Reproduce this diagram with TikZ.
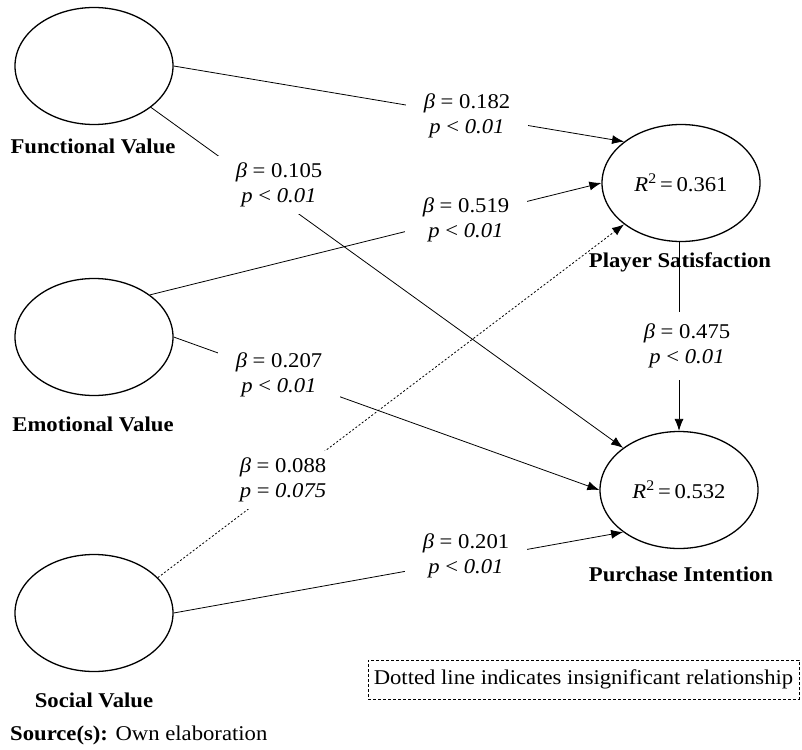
\documentclass[tikz,border=0pt]{standalone}
\usepackage{fontspec}
\setmainfont{Liberation Serif}[FakeStretch=1.08]
\usetikzlibrary{positioning, shapes.geometric, arrows.meta}

\begin{document}
\begin{tikzpicture}[x=1pt,y=-1pt,
    font=\fontsize{21}{25}\selectfont,
    latent/.style={draw,ellipse,line width=1.3pt,minimum width=158pt,minimum height=117pt,inner sep=0pt},
    varname/.style={font=\fontsize{21}{25}\selectfont\bfseries},
    coef/.style={fill=white,align=center,inner xsep=18pt,inner ysep=7pt},
    effect/.style={line width=0.8pt,-{Latex[length=12pt,width=9pt]}},
    insig/.style={effect,dash pattern=on 2pt off 2pt}]
        \useasboundingbox (0,0) rectangle (802,749);

        % the constructs
        \node[latent] (fv) at (94,66) {};
        \node[latent] (ev) at (94,337) {};
        \node[latent] (sv) at (94,613) {};
        \node[latent] (ps) at (681,183) {\textit{R}\textsuperscript{2}\,=\,0.361};
        \node[latent] (pi) at (679,490) {\textit{R}\textsuperscript{2}\,=\,0.532};

        \node[varname] (fvname) at (93,146) {Functional Value};
        \node[varname] (evname) at (93,424) {Emotional Value};
        \node[varname] (svname) at (94,700) {Social Value};
        \node[varname] (psname) at (680,262) {Player Satisfaction};
        \node[varname] (piname) at (681,574) {Purchase Intention};

        % the paths
        \draw[effect] (fv.0) -- (ps.144);
        \draw[effect] (fv.-36) -- (pi.143);
        \draw[effect] (ev.37) -- (ps.west);
        \draw[effect] (ev.east) -- (pi.west);
        \draw[insig] (sv.29) -- (ps.216);
        \draw[effect] (sv.east) -- (pi.217);
        \draw[effect] (ps.south -| pi.north) -- (pi.north);

        % the coefficients
        \node[coef] (c1) at (467,116) {\textit{β} = 0.182\\\textit{p} < \textit{0.01}};
        \node[coef] (c2) at (279,185) {\textit{β} = 0.105\\\textit{p} < \textit{0.01}};
        \node[coef] (c3) at (466,220) {\textit{β} = 0.519\\\textit{p} < \textit{0.01}};
        \node[coef] (c4) at (279,375) {\textit{β} = 0.207\\\textit{p} < \textit{0.01}};
        \node[coef] (c5) at (283,480) {\textit{β} = 0.088\\\textit{p} = \textit{0.075}};
        \node[coef] (c6) at (466,556) {\textit{β} = 0.201\\\textit{p} < \textit{0.01}};
        \node[coef,inner ysep=12pt] (c7) at (687,346) {\textit{β} = 0.475\\\textit{p} < \textit{0.01}};

        % note and source
        \node[draw,dash pattern=on 3pt off 2pt,minimum width=431pt,minimum height=39pt] (note) at (583.5,679.5) {Dotted line indicates insignificant relationship};
        \node[anchor=west,inner sep=0pt] (source) at (10,735) {\textbf{Source(s):} Own elaboration};
    \end{tikzpicture}
\end{document}
